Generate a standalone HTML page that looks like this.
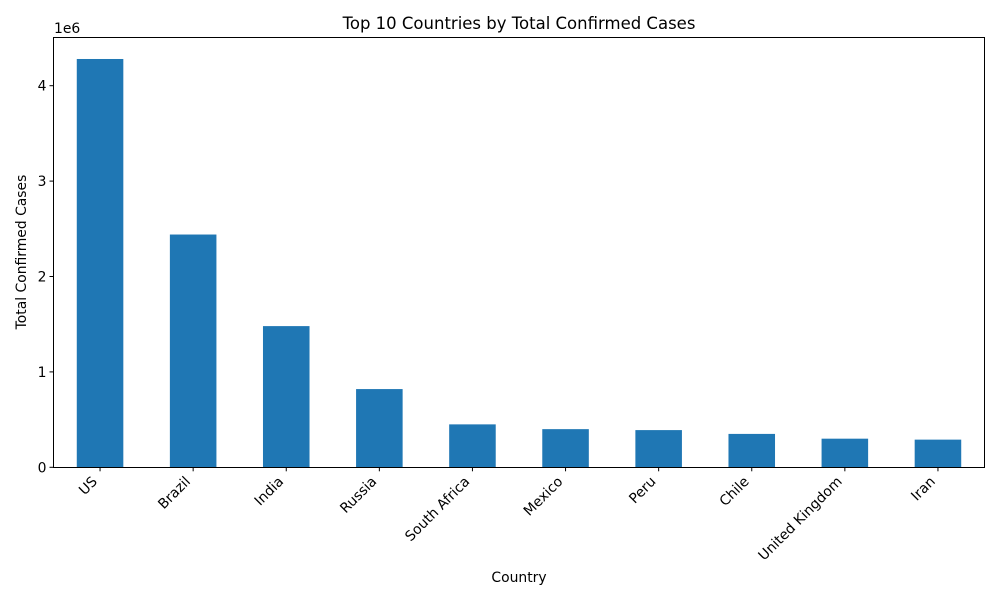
<!DOCTYPE html>
<html><head><meta charset="utf-8"><style>
body{margin:0;background:#fff;font-family:"DejaVu Sans","Liberation Sans",sans-serif}
</style></head><body>
<svg id="chart" width="1000" height="600" xmlns="http://www.w3.org/2000/svg" font-family="DejaVu Sans, Liberation Sans, sans-serif">
<text x="519" y="29" text-anchor="middle" font-size="16.5" fill="#000">Top 10 Countries by Total Confirmed Cases</text>
<text x="519" y="582" text-anchor="middle" font-size="13.9">Country</text>
<text transform="translate(26,252) rotate(-90)" text-anchor="middle" font-size="13.9">Total Confirmed Cases</text>
<text x="54" y="33" font-size="13.9">1e6</text>
<g id="bars"></g><g id="xt"></g><g id="yt"></g>
<rect x="53.5" y="37.5" width="931" height="430" fill="none" stroke="#000" stroke-width="1"/>
</svg>
<script>
const categories=["US","Brazil","India","Russia","South Africa","Mexico","Peru","Chile","United Kingdom","Iran"];
const values=[4.28e6,2.44e6,1.48e6,0.82e6,0.45e6,0.40e6,0.39e6,0.35e6,0.30e6,0.29e6];
const yTicks=[0,1,2,3,4];
const L=53.5,R=984.5,T=37.5,B=467.3;
const ymax=(B-T)/95.4*1e6;
const sx=i=>L+(i+0.5)*(R-L)/categories.length;
const sy=v=>B-v/ymax*(B-T);
const NS="http://www.w3.org/2000/svg";
const bars=document.getElementById('bars'),xt=document.getElementById('xt'),yt=document.getElementById('yt');
const bw=(R-L)/categories.length*0.5;
categories.forEach((c,i)=>{
 const r=document.createElementNS(NS,'rect');
 r.setAttribute('x',sx(i)-bw/2);r.setAttribute('y',sy(values[i]));
 r.setAttribute('width',bw);r.setAttribute('height',B-sy(values[i]));r.setAttribute('fill','#1f77b4');
 
 
 bars.appendChild(r);
 const t=document.createElementNS(NS,'line');
 t.setAttribute('x1',sx(i));t.setAttribute('x2',sx(i));t.setAttribute('y1',B);t.setAttribute('y2',B+4);t.setAttribute('stroke','#000');
 xt.appendChild(t);
 const ax=sx(i)-2, ay=B+15;
 const tx=document.createElementNS(NS,'text');
 tx.setAttribute('x',ax);tx.setAttribute('y',ay);tx.setAttribute('font-size','13.9');tx.setAttribute('text-anchor','end');
 tx.setAttribute('transform','rotate(-45 '+ax+' '+ay+')');
 tx.textContent=c;
 
 
 xt.appendChild(tx);
});
yTicks.forEach(v=>{
 const y=sy(v*1e6);
 const t=document.createElementNS(NS,'line');
 t.setAttribute('x1',L-4);t.setAttribute('x2',L);t.setAttribute('y1',y);t.setAttribute('y2',y);t.setAttribute('stroke','#000');
 yt.appendChild(t);
 const tx=document.createElementNS(NS,'text');
 tx.setAttribute('x',L-7);tx.setAttribute('y',y+5);tx.setAttribute('font-size','13.9');tx.setAttribute('text-anchor','end');
 tx.textContent=v;
 
 
 yt.appendChild(tx);
});
</script>
</body></html>
